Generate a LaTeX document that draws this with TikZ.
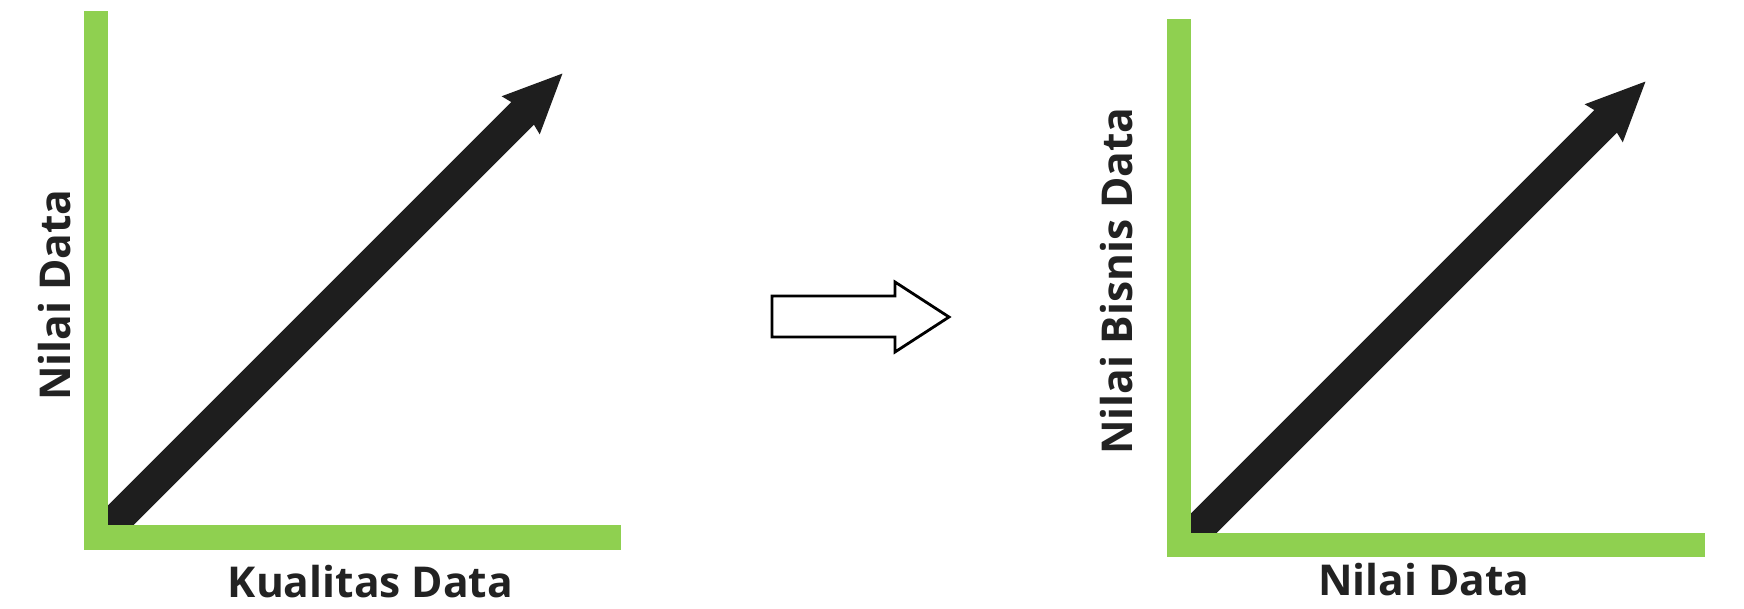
\documentclass[tikz,border=0pt]{standalone}
\usepackage{fontspec}
\setmainfont{Open Sans}
\usetikzlibrary{arrows.meta}
\definecolor{axisgreen}{HTML}{8FD050}
\definecolor{arrowblack}{HTML}{1E1E1E}
\definecolor{textdark}{HTML}{222222}
\tikzset{
  axisbar/.style={fill=axisgreen, draw=none},
  growth/.style={draw=arrowblack, line width=32pt, line cap=butt,
    -{Stealth[length=58pt, width=50pt, inset=5pt, fill=arrowblack]}},
  label/.style={inner sep=0pt, text=textdark, font=\fontsize{42.5}{50}\selectfont\bfseries},
  hollow/.style={draw=black, line width=2.8pt, fill=white, line join=miter}
}
\begin{document}
\begin{tikzpicture}[x=1pt,y=-1pt]
\useasboundingbox (0,0) rectangle (1744,608);
% left chart
\coordinate (ltail) at (100,536);
\coordinate (ltip) at (563,73);
\draw[growth] (ltail) -- (ltip);
\fill[axisbar] (84,11) rectangle (108,550);
\fill[axisbar] (84,525) rectangle (621,550);
\node[label, anchor=base] (lx) at (370.5,597) {Kualitas Data};
\node[label, anchor=base, rotate=90] (ly) at (70,295) {Nilai Data};
% middle hollow arrow
\draw[hollow] (772,296) -- (895,296) -- (895,282) -- (949,317) -- (895,352) -- (895,337) -- (772,337) -- cycle;
% right chart
\coordinate (rtail) at (1184,543);
\coordinate (rtip) at (1646,81);
\draw[growth] (rtail) -- (rtip);
\fill[axisbar] (1167,19) rectangle (1191,557);
\fill[axisbar] (1167,533) rectangle (1705,557);
\node[label, anchor=base] (rx) at (1424,595) {Nilai Data};
\node[label, anchor=base, rotate=90] (ry) at (1132,281) {Nilai Bisnis Data};
\end{tikzpicture}
\end{document}
